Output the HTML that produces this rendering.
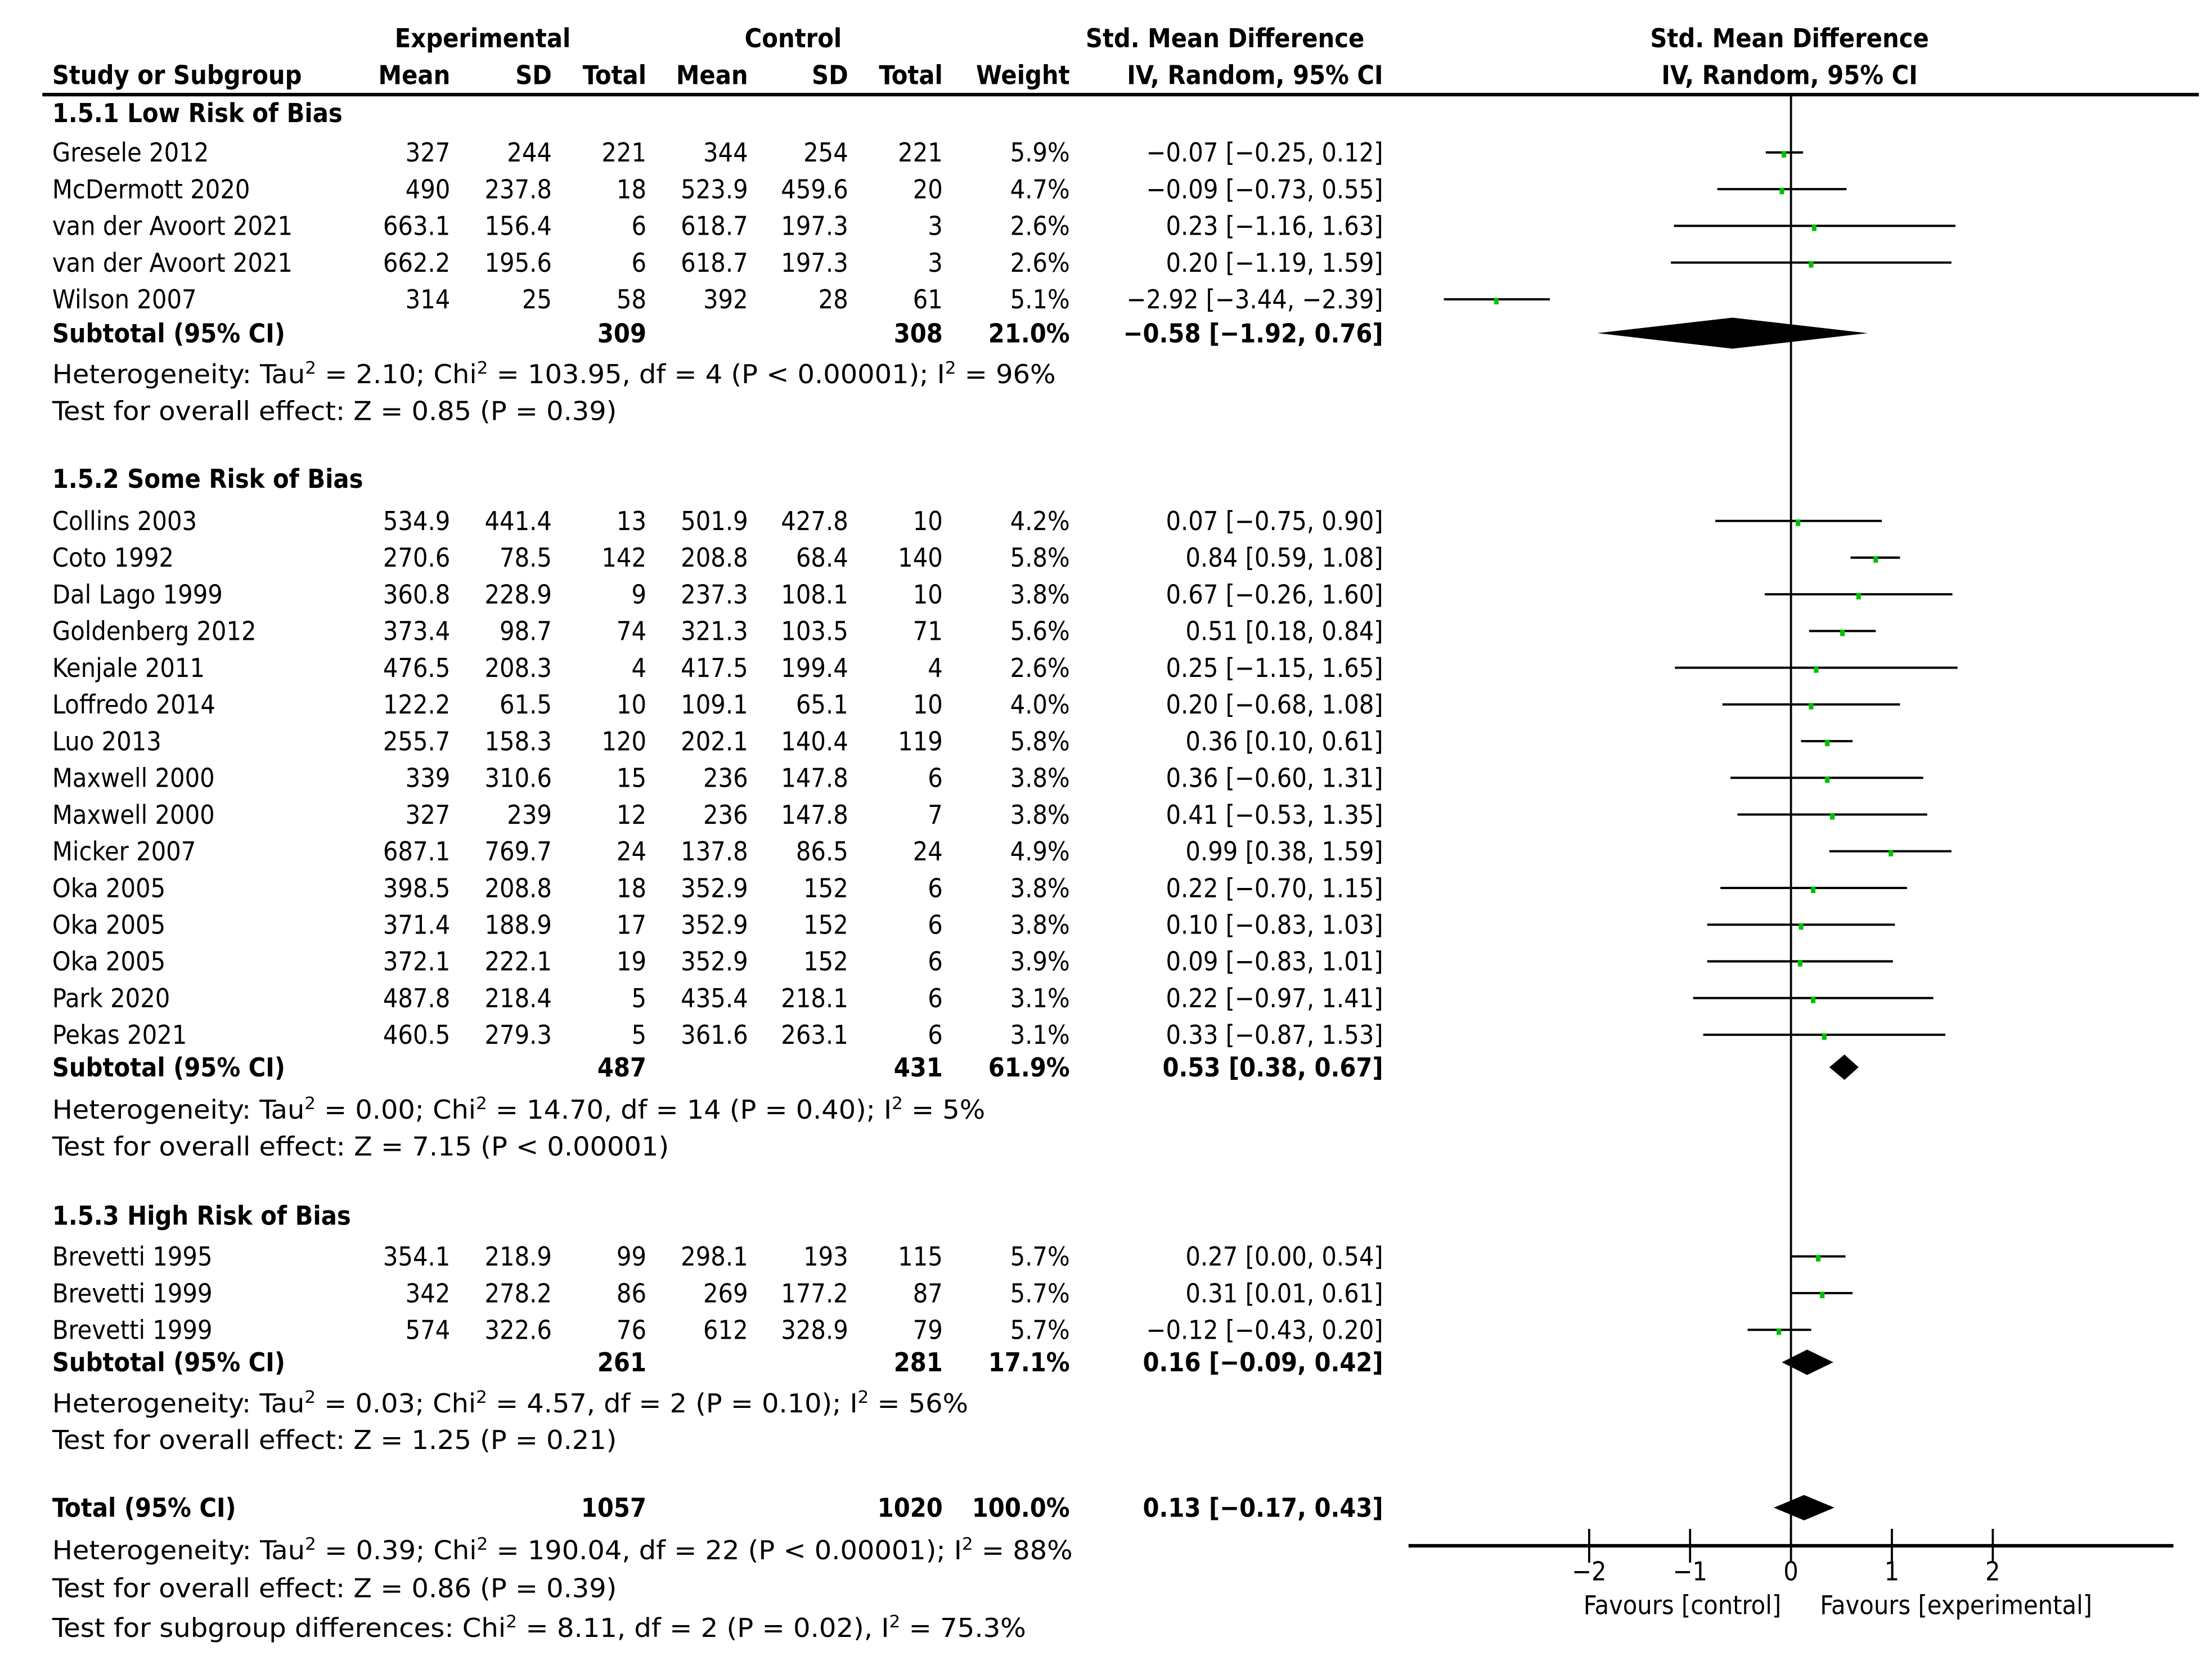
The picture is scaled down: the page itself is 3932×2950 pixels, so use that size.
<!DOCTYPE html>
<html><head><meta charset="utf-8">
<style>
html,body{margin:0;padding:0;background:#fff;width:3932px;height:2950px;overflow:hidden}
svg{display:block}
text{font-family:"DejaVu Sans Condensed","DejaVu Sans","Liberation Sans",sans-serif;font-stretch:condensed;font-size:18.5px;fill:#000}
.b{font-weight:bold}
</style></head><body>
<svg id="fp" width="3932" height="2950" viewBox="0 0 1567.3 1175.9" xmlns="http://www.w3.org/2000/svg"></svg>
<script>
// ---- data ----
const studyNames = ["Gresele 2012","McDermott 2020","van der Avoort 2021","van der Avoort 2021","Wilson 2007",
 "Collins 2003","Coto 1992","Dal Lago 1999","Goldenberg 2012","Kenjale 2011","Loffredo 2014","Luo 2013","Maxwell 2000","Maxwell 2000","Micker 2007","Oka 2005","Oka 2005","Oka 2005","Park 2020","Pekas 2021",
 "Brevetti 1995","Brevetti 1999","Brevetti 1999"];
const expMean = ["327","490","663.1","662.2","314","534.9","270.6","360.8","373.4","476.5","122.2","255.7","339","327","687.1","398.5","371.4","372.1","487.8","460.5","354.1","342","574"];
const expSD = ["244","237.8","156.4","195.6","25","441.4","78.5","228.9","98.7","208.3","61.5","158.3","310.6","239","769.7","208.8","188.9","222.1","218.4","279.3","218.9","278.2","322.6"];
const expN = ["221","18","6","6","58","13","142","9","74","4","10","120","15","12","24","18","17","19","5","5","99","86","76"];
const ctlMean = ["344","523.9","618.7","618.7","392","501.9","208.8","237.3","321.3","417.5","109.1","202.1","236","236","137.8","352.9","352.9","352.9","435.4","361.6","298.1","269","612"];
const ctlSD = ["254","459.6","197.3","197.3","28","427.8","68.4","108.1","103.5","199.4","65.1","140.4","147.8","147.8","86.5","152","152","152","218.1","263.1","193","177.2","328.9"];
const ctlN = ["221","20","3","3","61","10","140","10","71","4","10","119","6","7","24","6","6","6","6","6","115","87","79"];
const weights = ["5.9%","4.7%","2.6%","2.6%","5.1%","4.2%","5.8%","3.8%","5.6%","2.6%","4.0%","5.8%","3.8%","3.8%","4.9%","3.8%","3.8%","3.9%","3.1%","3.1%","5.7%","5.7%","5.7%"];
const est = [-0.07,-0.09,0.23,0.20,-2.92,0.07,0.84,0.67,0.51,0.25,0.20,0.36,0.36,0.41,0.99,0.22,0.10,0.09,0.22,0.33,0.27,0.31,-0.12];
const lo  = [-0.25,-0.73,-1.16,-1.19,-3.44,-0.75,0.59,-0.26,0.18,-1.15,-0.68,0.10,-0.60,-0.53,0.38,-0.70,-0.83,-0.83,-0.97,-0.87,0.00,0.01,-0.43];
const hi  = [0.12,0.55,1.63,1.59,-2.39,0.90,1.08,1.60,0.84,1.65,1.08,0.61,1.31,1.35,1.59,1.15,1.03,1.01,1.41,1.53,0.54,0.61,0.20];
const subNames = ["Subtotal (95% CI)","Subtotal (95% CI)","Subtotal (95% CI)","Total (95% CI)"];
const subExpN = ["309","487","261","1057"];
const subCtlN = ["308","431","281","1020"];
const subW = ["21.0%","61.9%","17.1%","100.0%"];
const subEst = [-0.58,0.53,0.16,0.13];
const subLo = [-1.92,0.38,-0.09,-0.17];
const subHi = [0.76,0.67,0.42,0.43];
const xTicks = [-2,-1,0,1,2];
const fmt = v => (v<0?"\u2212":"")+Math.abs(v).toFixed(2);
// ---- layout ----
const svg = document.getElementById('fp');
const NS = "http://www.w3.org/2000/svg";
const X0 = 1269, PXU = 71.5;
const xs = v => X0 + v*PXU;
function el(tag, attrs, txt){const e=document.createElementNS(NS,tag);for(const k in attrs)e.setAttribute(k,attrs[k]);if(txt!==undefined)e.textContent=txt;svg.appendChild(e);return e;}
function txt(x,y,s,anchor,bold,name,len){
  const a={x:x,y:y+6.5,'text-anchor':anchor||'start'};
  if(bold)a['class']='b';
  if(len){a.textLength=len;a.lengthAdjust='spacingAndGlyphs';}
  const t=el('text',a);
  
  
  t.innerHTML=s;
  return t;
}
const sup = '<tspan baseline-shift="super" font-size="12">2</tspan>';
txt(342,27,"Experimental","middle",true,"experimental-header");
txt(562,27,"Control","middle",true,"control-header");
txt(868,27,"Std. Mean Difference","middle",true,"smd-header");
txt(1268,27,"Std. Mean Difference","middle",true,"plot-smd-header");
txt(37,53,"Study or Subgroup","start",true,"study-col-header");
const colX=[319,391,458,530,601,668,758,980];
const hdr=["Mean","SD","Total","Mean","SD","Total","Weight","IV, Random, 95% CI"];
hdr.forEach((h,i)=>txt(colX[i],53,h,"end",true,"col-header-"+h.toLowerCase().replace(/[^a-z0-9]+/g,'-')));
txt(1268,53,"IV, Random, 95% CI","middle",true,"plot-method-header");
let l=el('line',{x1:30,y1:67,x2:1558,y2:67,stroke:'#000','stroke-width':2.5});


const studyY=[108,134,160,186,212, 369,395,421,447,473,499,525,551,577,603,629,655,681,707,733, 890,916,942];
const subY=[236,756,965,1068];
l=el('line',{x1:X0,y1:68,x2:X0,y2:1095,stroke:'#000','stroke-width':1.5});


l=el('line',{x1:998,y1:1095,x2:1540,y2:1095,stroke:'#000','stroke-width':2.5});


xTicks.forEach(v=>{
  const t=el('line',{x1:xs(v),y1:1083,x2:xs(v),y2:1107,stroke:'#000','stroke-width':1.5});
  
  
  txt(xs(v),1113,fmt(v).replace(".00",""),"middle",false,"x-tick-label");
});
txt(1192,1137,"Favours [control]","middle",false,"favours-control-label");
txt(1386,1137,"Favours [experimental]","middle",false,"favours-experimental-label");
txt(37,80,"1.5.1 Low Risk of Bias","start",true,"group-1-heading");
txt(37,339,"1.5.2 Some Risk of Bias","start",true,"group-2-heading");
txt(37,861,"1.5.3 High Risk of Bias","start",true,"group-3-heading");
txt(37,265,"Heterogeneity: Tau"+sup+" = 2.10; Chi"+sup+" = 103.95, df = 4 (P &lt; 0.00001); I"+sup+" = 96%","start",false,"group-1-heterogeneity",711);
txt(37,291,"Test for overall effect: Z = 0.85 (P = 0.39)","start",false,"group-1-overall-effect",400);
txt(37,786,"Heterogeneity: Tau"+sup+" = 0.00; Chi"+sup+" = 14.70, df = 14 (P = 0.40); I"+sup+" = 5%","start",false,"group-2-heterogeneity",661);
txt(37,812,"Test for overall effect: Z = 7.15 (P &lt; 0.00001)","start",false,"group-2-overall-effect",437);
txt(37,994,"Heterogeneity: Tau"+sup+" = 0.03; Chi"+sup+" = 4.57, df = 2 (P = 0.10); I"+sup+" = 56%","start",false,"group-3-heterogeneity",649);
txt(37,1020,"Test for overall effect: Z = 1.25 (P = 0.21)","start",false,"group-3-overall-effect",400);
txt(37,1098,"Heterogeneity: Tau"+sup+" = 0.39; Chi"+sup+" = 190.04, df = 22 (P &lt; 0.00001); I"+sup+" = 88%","start",false,"total-heterogeneity",723);
txt(37,1125,"Test for overall effect: Z = 0.86 (P = 0.39)","start",false,"total-overall-effect",400);
txt(37,1153,"Test for subgroup differences: Chi"+sup+" = 8.11, df = 2 (P = 0.02), I"+sup+" = 75.3%","start",false,"subgroup-differences",690);
studyNames.forEach((n,i)=>{
  const y=studyY[i];
  txt(37,y,n,"start",false,"study-name");
  const vals=[expMean[i],expSD[i],expN[i],ctlMean[i],ctlSD[i],ctlN[i],weights[i],fmt(est[i])+" ["+fmt(lo[i])+", "+fmt(hi[i])+"]"];
  vals.forEach((v,j)=>txt(colX[j],y,v,"end",false,"study-value"));
  const ci=el('line',{x1:xs(lo[i]),y1:y,x2:xs(hi[i]),y2:y,stroke:'#000','stroke-width':1.6});
  
  
  const sq=el('rect',{x:xs(est[i])-1.6,y:y-1,width:3.2,height:4.6,fill:'#00c000'});
  
  
});
subNames.forEach((n,i)=>{
  const y=subY[i];
  txt(37,y,n,"start",true,"subtotal-label");
  txt(colX[2],y,subExpN[i],"end",true,"subtotal-exp-n");
  txt(colX[5],y,subCtlN[i],"end",true,"subtotal-ctl-n");
  txt(colX[6],y,subW[i],"end",true,"subtotal-weight");
  txt(colX[7],y,fmt(subEst[i])+" ["+fmt(subLo[i])+", "+fmt(subHi[i])+"]","end",true,"subtotal-ci");
  const h = i===0?11:9;
  const d=el('polygon',{points:[xs(subLo[i])+","+y, xs(subEst[i])+","+(y-h), xs(subHi[i])+","+y, xs(subEst[i])+","+(y+h)].join(" "),fill:'#000'});
  
  
});
</script>
</body></html>
